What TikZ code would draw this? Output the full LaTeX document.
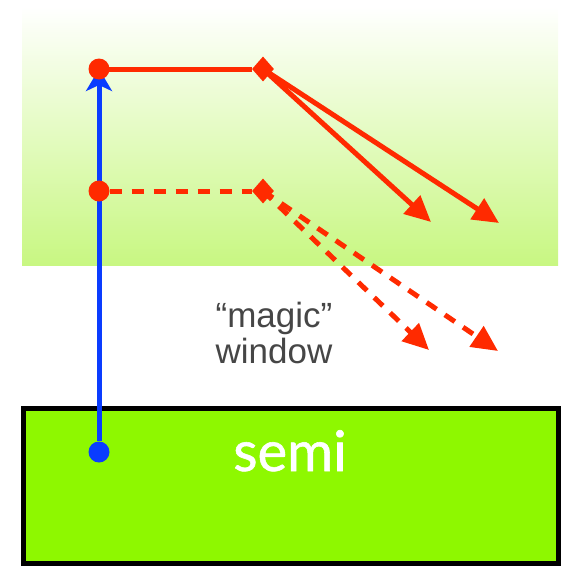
\documentclass[tikz,border=0pt]{standalone}
\usepackage{fontspec}
\setmainfont{Liberation Sans}
\newfontfamily\semifont[FakeBold=1]{Lato}
\usepackage{tikz}
\usetikzlibrary{arrows.meta, shapes.geometric, positioning}
\definecolor{RayRed}{HTML}{FF2A00}
\definecolor{PathBlue}{HTML}{0A3CFF}
\definecolor{SemiGreen}{HTML}{8EF800}
\definecolor{WindowGreen}{HTML}{C8F782}
\definecolor{LabelGray}{HTML}{464646}

\tikzset{
    reddot/.style={circle, fill=RayRed, inner sep=0pt, minimum size=21pt},
    bluedot/.style={circle, fill=PathBlue, inner sep=0pt, minimum size=21pt},
    kink/.style={diamond, fill=RayRed, inner sep=0pt, minimum width=22pt, minimum height=25pt},
    ray/.style={RayRed, line width=5pt},
    rayarrow/.style={ray, -{Triangle[length=26pt, width=24pt]}},
    dashray/.style={dash pattern=on 12pt off 10pt}
}

\begin{document}
\begin{tikzpicture}[x=1pt, y=-1pt]
    \useasboundingbox (0,0) rectangle (572,566);

    % Window region and semi block
    \shade[top color=white, bottom color=WindowGreen] (22,6) rectangle (558,265);
    \draw[line width=5pt, fill=SemiGreen] (23.5,408.5) rectangle (558.5,563.5);
    \node[text=white, anchor=base, font=\semifont\fontsize{56}{56}\selectfont] (semi) at (290,471) {semi};
    \node[text=LabelGray, align=center, font=\fontsize{35}{36}\selectfont] (magic) at (274,333) {“magic”\\window};

    % Blue path from the source up
    \node[bluedot] (src) at (99,452) {};
    \coordinate (hit) at (99,69);
    \draw[PathBlue, line width=5pt, -{Stealth[length=22pt, width=26pt, inset=6pt]}] (src) -- (hit);

    % Ray ends
    \coordinate (endA) at (431,222);
    \coordinate (endB) at (499,223);
    \coordinate (endC) at (429,350);
    \coordinate (endD) at (498,351);

    % Solid rays
    \node[kink] (kinkA) at (263,69) {};
    \draw[ray] (hit) -- (kinkA);
    \foreach \e in {endA, endB}
        \draw[rayarrow] (kinkA.center) -- (\e);
    \node[reddot] (dotA) at (hit) {};

    % Dashed rays
    \node[reddot] (dotB) at (99,191) {};
    \node[kink] (kinkB) at (263,191) {};
    \draw[ray, dashray] (dotB) -- (kinkB);
    \foreach \e in {endC, endD}
        \draw[rayarrow, dashray] (kinkB.center) -- (\e);
\end{tikzpicture}
\end{document}
